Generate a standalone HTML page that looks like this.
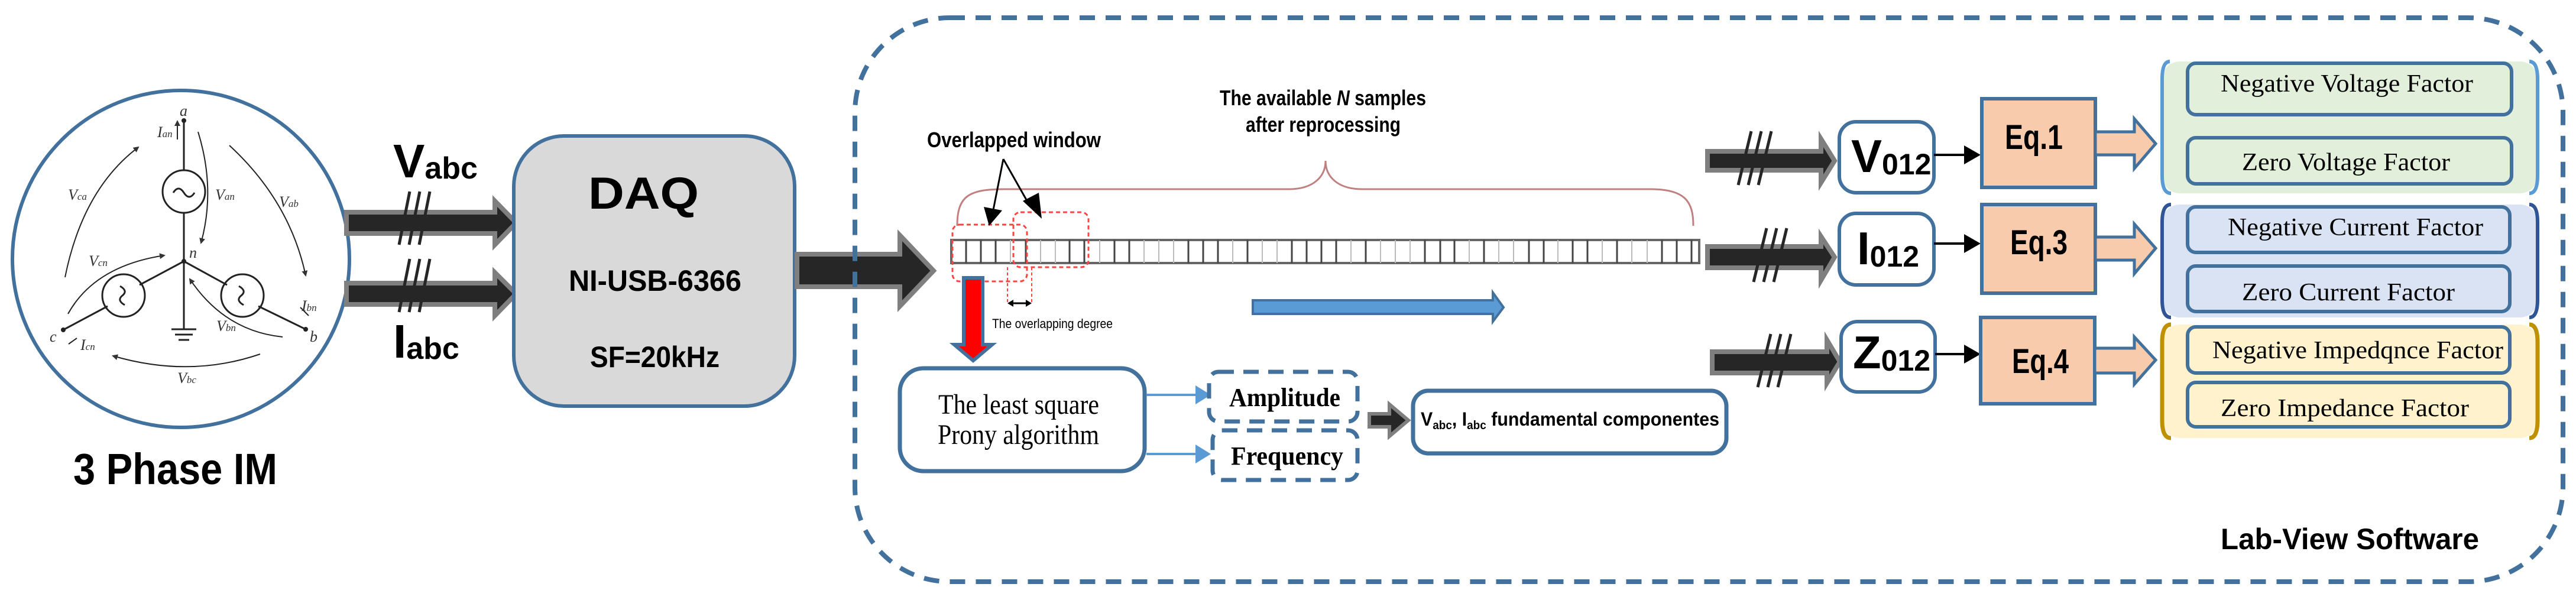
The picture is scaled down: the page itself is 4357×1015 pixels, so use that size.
<!DOCTYPE html>
<html><head><meta charset="utf-8"><style>
html,body{margin:0;padding:0;background:#fff;}
svg{display:block;}
</style></head><body>
<svg width="4357" height="1015" viewBox="0 0 4357 1015" xmlns="http://www.w3.org/2000/svg">
<defs>
<marker id="ah" markerWidth="10" markerHeight="10" refX="8" refY="5" orient="auto" markerUnits="userSpaceOnUse"><path d="M0,0 L10,5 L0,10z" fill="#333"/></marker>
</defs>
<g font-family="'Liberation Sans', sans-serif" font-weight="bold" fill="#000">

<!-- Motor circle -->
<circle cx="306" cy="438" r="285" fill="#fff" stroke="#41719c" stroke-width="6"/>
<g stroke="#222" stroke-width="3" fill="none">
<line x1="311" y1="204" x2="311" y2="288"/>
<line x1="311" y1="360" x2="311" y2="557"/>
<line x1="311" y1="442" x2="236" y2="482"/>
<line x1="182" y1="518" x2="107" y2="558"/>
<line x1="311" y1="442" x2="384" y2="482"/>
<line x1="437" y1="518" x2="517" y2="557"/>
<line x1="290" y1="557" x2="332" y2="557"/>
<line x1="296" y1="566" x2="326" y2="566"/>
<line x1="302" y1="575" x2="320" y2="575"/>
<circle cx="311" cy="324" r="36"/>
<circle cx="209" cy="500" r="36"/>
<circle cx="410" cy="500" r="36"/>
<path d="M293,326 q9,-14 18,0 q9,14 18,0"/>
<path d="M203,484 q14,8 4,16 q-10,8 4,16"/>
<path d="M404,484 q14,8 4,16 q-10,8 4,16"/>
<path d="M110,469 Q140,320 234,249" stroke-width="2" marker-end="url(#ah)"/>
<path d="M388,246 Q490,340 517,466" stroke-width="2" marker-end="url(#ah)"/>
<path d="M335,223 Q365,320 340,411" stroke-width="2" marker-end="url(#ah)"/>
<path d="M440,599 Q320,640 191,602" stroke-width="2" marker-end="url(#ah)"/>
<path d="M115,531 Q160,450 278,432" stroke-width="2" marker-end="url(#ah)"/>
<path d="M478,570 Q380,560 321,472" stroke-width="2" marker-end="url(#ah)"/>
<line x1="300" y1="236" x2="300" y2="205" stroke-width="2" marker-end="url(#ah)"/>
<line x1="508" y1="520" x2="522" y2="534" stroke-width="2"/>
<line x1="130" y1="572" x2="116" y2="582" stroke-width="2"/>
</g>
<circle cx="311" cy="204" r="4" fill="#222"/><circle cx="311" cy="442" r="4" fill="#222"/>
<circle cx="107" cy="558" r="4" fill="#222"/><circle cx="517" cy="557" r="4" fill="#222"/>
<g font-family="'Liberation Serif', serif" font-style="italic" font-weight="normal" font-size="26" fill="#333">
<text x="304" y="196">a</text><text x="266" y="232">I<tspan font-size="17">an</tspan></text>
<text x="364" y="338">V<tspan font-size="17">an</tspan></text><text x="115" y="338">V<tspan font-size="17">ca</tspan></text>
<text x="472" y="350">V<tspan font-size="17">ab</tspan></text><text x="150" y="450">V<tspan font-size="17">cn</tspan></text>
<text x="320" y="436">n</text><text x="510" y="526">I<tspan font-size="17">bn</tspan></text>
<text x="366" y="560">V<tspan font-size="17">bn</tspan></text><text x="84" y="578">c</text>
<text x="136" y="592">I<tspan font-size="17">cn</tspan></text><text x="524" y="578">b</text>
<text x="300" y="648">V<tspan font-size="17">bc</tspan></text>
</g>
<text x="124" y="819" font-size="74" textLength="345" lengthAdjust="spacingAndGlyphs">3 Phase IM</text>

<!-- input arrows -->
<polygon points="586,359 837,359 837,340 873,377 837,414 837,395 586,395" fill="#262626" stroke="#7f7f7f" stroke-width="8"/>
<polygon points="586,479 837,479 837,461 873,497 837,534 837,515 586,515" fill="#262626" stroke="#7f7f7f" stroke-width="8"/>
<g stroke="#262626" stroke-width="5">
<line x1="693" y1="324" x2="675" y2="414"/><line x1="710" y1="324" x2="692" y2="414"/><line x1="727" y1="324" x2="709" y2="414"/>
<line x1="693" y1="438" x2="675" y2="528"/><line x1="710" y1="438" x2="692" y2="528"/><line x1="727" y1="438" x2="709" y2="528"/>
</g>
<text x="665" y="300" font-size="80">V<tspan font-size="52" dy="2">abc</tspan></text>
<text x="665" y="605" font-size="80">I<tspan font-size="52" dy="2">abc</tspan></text>

<!-- DAQ -->
<rect x="869" y="230" width="475" height="457" rx="85" fill="#d9d9d9" stroke="#41719c" stroke-width="6"/>
<text x="995" y="353" font-size="76" textLength="187" lengthAdjust="spacingAndGlyphs">DAQ</text>
<text x="962" y="492" font-size="50" textLength="292" lengthAdjust="spacingAndGlyphs">NI-USB-6366</text>
<text x="998" y="621" font-size="50" textLength="219" lengthAdjust="spacingAndGlyphs">SF=20kHz</text>
<polygon points="1348,430 1522,430 1522,398 1579,458 1522,518 1522,485 1348,485" fill="#262626" stroke="#7f7f7f" stroke-width="8"/>

<!-- dashed container -->
<rect x="1446" y="30" width="2889" height="954" rx="160" fill="none" stroke="#41719c" stroke-width="8" stroke-dasharray="26,18"/>
<text x="3756" y="929" font-size="50" textLength="437" lengthAdjust="spacingAndGlyphs">Lab-View Software</text>

<!-- samples -->
<text x="2063" y="178" font-size="36" textLength="349" lengthAdjust="spacingAndGlyphs">The available <tspan font-style="italic">N</tspan> samples</text>
<text x="2107" y="223" font-size="36" textLength="262" lengthAdjust="spacingAndGlyphs">after reprocessing</text>
<text x="1568" y="249" font-size="36" textLength="294" lengthAdjust="spacingAndGlyphs">Overlapped window</text>
<path d="M1619,382 C1619,330 1640,320 1700,320 L2180,320 C2220,320 2242,300 2242,272 C2242,300 2264,320 2304,320 L2790,320 C2850,320 2864,340 2864,382" fill="none" stroke="#c0807f" stroke-width="3"/>
<rect x="1609" y="406" width="1265" height="39" fill="#fff" stroke="#666" stroke-width="4"/>
<g stroke="#444" stroke-width="3" id="cells">
<path d="M1634,406v39M1659,406v39M1684,406v39M1735,406v39M1809,406v39M1834,406v39M1885,406v39M1910,406v39M2010,406v39M2035,406v39M2060,406v39M2110,406v39M2185,406v39M2210,406v39M2235,406v39M2260,406v39M2310,406v39M2410,406v39M2436,406v39M2460,406v39M2510,406v39M2586,406v39M2611,406v39M2660,406v39M2685,406v39M2735,406v39M2811,406v39M2836,406v39M2861,406v39"/>
</g>
<g stroke="#bbb" stroke-width="2">
<path d="M1709,406v39M1760,406v39M1785,406v39M1860,406v39M1935,406v39M1960,406v39M1985,406v39M2085,406v39M2135,406v39M2160,406v39M2285,406v39M2335,406v39M2360,406v39M2385,406v39M2485,406v39M2535,406v39M2560,406v39M2635,406v39M2710,406v39M2760,406v39M2786,406v39"/>
</g>
<rect x="1611" y="380" width="126" height="96" rx="12" fill="none" stroke="#f44" stroke-width="3" stroke-dasharray="7,5"/>
<rect x="1714" y="359" width="127" height="93" rx="12" fill="none" stroke="#f44" stroke-width="3" stroke-dasharray="7,5"/>
<path d="M1704,452 V513 M1745,452 V513" stroke="#f44" stroke-width="2" stroke-dasharray="5,4" fill="none"/>
<path d="M1706,513 h37" stroke="#000" stroke-width="3"/>
<path d="M1704,513 l10,-6 v12z M1745,513 l-10,-6 v12z" fill="#000"/>
<text x="1678" y="555" font-size="22" textLength="204" lengthAdjust="spacingAndGlyphs" font-weight="normal">The overlapping degree</text>
<line x1="1697" y1="269" x2="1679" y2="360" stroke="#000" stroke-width="3"/>
<line x1="1697" y1="269" x2="1740" y2="345" stroke="#000" stroke-width="3"/>
<polygon points="1664,350 1695,356 1673,382" fill="#000"/>
<polygon points="1730,340 1757,326 1762,370" fill="#000"/>

<!-- red arrow -->
<polygon points="1630,470 1662,470 1662,583 1678,583 1646,610 1614,583 1630,583" fill="#f00" stroke="#41719c" stroke-width="6"/>
<!-- blue right arrow -->
<polygon points="2119,508 2525,508 2525,495 2543,520 2525,544 2525,531 2119,531" fill="#5b9bd5" stroke="#41719c" stroke-width="4"/>

<!-- Prony -->
<rect x="1522" y="623" width="414" height="174" rx="40" fill="#fff" stroke="#41719c" stroke-width="7"/>
<g font-family="'Liberation Serif', serif" font-weight="normal">
<text x="1587" y="700" font-size="48" textLength="272" lengthAdjust="spacingAndGlyphs">The least square</text>
<text x="1586" y="751" font-size="48" textLength="273" lengthAdjust="spacingAndGlyphs">Prony algorithm</text>
</g>
<path d="M1939,668 H2025 M1939,768 H2025" stroke="#5b9bd5" stroke-width="4"/>
<polygon points="2022,652 2048,668 2022,684" fill="#5b9bd5"/>
<polygon points="2022,752 2048,768 2022,784" fill="#5b9bd5"/>
<rect x="2045" y="629" width="251" height="84" rx="16" fill="#fff" stroke="#41719c" stroke-width="7" stroke-dasharray="26,16"/>
<rect x="2051" y="728" width="245" height="84" rx="16" fill="#fff" stroke="#41719c" stroke-width="7" stroke-dasharray="26,16"/>
<g font-family="'Liberation Serif', serif">
<text x="2079" y="687" font-size="44" textLength="188" lengthAdjust="spacingAndGlyphs">Amplitude</text>
<text x="2082" y="786" font-size="44" textLength="190" lengthAdjust="spacingAndGlyphs">Frequency</text>
</g>
<polygon points="2316,700 2350,700 2350,684 2382,711 2350,738 2350,722 2316,722" fill="#262626" stroke="#7f7f7f" stroke-width="6"/>
<rect x="2390" y="661" width="530" height="106" rx="26" fill="#fff" stroke="#41719c" stroke-width="7"/>
<text x="2403" y="720" font-size="32" textLength="505" lengthAdjust="spacingAndGlyphs">V<tspan font-size="20" dy="6">abc</tspan><tspan dy="-6">, I</tspan><tspan font-size="20" dy="6">abc</tspan><tspan dy="-6"> fundamental componentes</tspan></text>

<!-- right arrows -->
<polygon points="2888,256 3080,256 3080,235 3103,272 3080,309 3080,288 2888,288" fill="#262626" stroke="#7f7f7f" stroke-width="8"/>
<polygon points="2888,417 3080,417 3080,400 3103,435 3080,474 3080,453 2888,453" fill="#262626" stroke="#7f7f7f" stroke-width="8"/>
<polygon points="2896,595 3090,595 3090,575 3112,612 3090,648 3090,631 2896,631" fill="#262626" stroke="#7f7f7f" stroke-width="8"/>
<g stroke="#262626" stroke-width="5">
<line x1="2962" y1="222" x2="2940" y2="313"/><line x1="2979" y1="222" x2="2957" y2="313"/><line x1="2996" y1="222" x2="2974" y2="313"/>
<line x1="2988" y1="386" x2="2966" y2="477"/><line x1="3005" y1="386" x2="2983" y2="477"/><line x1="3022" y1="386" x2="3000" y2="477"/>
<line x1="2995" y1="565" x2="2973" y2="655"/><line x1="3012" y1="565" x2="2990" y2="655"/><line x1="3029" y1="565" x2="3007" y2="655"/>
</g>
<rect x="3111" y="206" width="160" height="120" rx="28" fill="#fff" stroke="#41719c" stroke-width="6"/>
<rect x="3111" y="361" width="160" height="121" rx="28" fill="#fff" stroke="#41719c" stroke-width="6"/>
<rect x="3114" y="544" width="159" height="119" rx="28" fill="#fff" stroke="#41719c" stroke-width="6"/>
<text x="3131" y="291" font-size="78">V<tspan font-size="50" dy="4">012</tspan></text>
<text x="3141" y="447" font-size="78">I<tspan font-size="50" dy="4">012</tspan></text>
<text x="3134" y="623" font-size="78">Z<tspan font-size="50" dy="4">012</tspan></text>
<path d="M3271,262 H3325 M3271,412 H3325 M3273,599 H3325" stroke="#000" stroke-width="4"/>
<polygon points="3322,246 3350,262 3322,278" fill="#000"/>
<polygon points="3322,396 3350,412 3322,428" fill="#000"/>
<polygon points="3322,583 3350,599 3322,615" fill="#000"/>
<rect x="3352" y="167" width="192" height="150" fill="#f8cbad" stroke="#41719c" stroke-width="6"/>
<rect x="3352" y="346" width="192" height="150" fill="#f8cbad" stroke="#41719c" stroke-width="6"/>
<rect x="3350" y="537" width="193" height="146" fill="#f8cbad" stroke="#41719c" stroke-width="6"/>
<text x="3391" y="252" font-size="58" textLength="98" lengthAdjust="spacingAndGlyphs">Eq.1</text>
<text x="3400" y="430" font-size="58" textLength="97" lengthAdjust="spacingAndGlyphs">Eq.3</text>
<text x="3403" y="631" font-size="58" textLength="96" lengthAdjust="spacingAndGlyphs">Eq.4</text>
<polygon points="3544,223 3610,223 3610,201 3646,243 3610,285 3610,262 3544,262" fill="#f8cbad" stroke="#41719c" stroke-width="5"/>
<polygon points="3544,401 3610,401 3610,379 3646,420 3610,463 3610,440 3544,440" fill="#f8cbad" stroke="#41719c" stroke-width="5"/>
<polygon points="3543,589 3610,589 3610,570 3646,609 3610,650 3610,631 3543,631" fill="#f8cbad" stroke="#41719c" stroke-width="5"/>

<!-- groups -->
<rect x="3657" y="104" width="635" height="223" rx="30" fill="#e2efda"/>
<path d="M3670,104 Q3657,104 3657,134 V297 Q3657,327 3672,327 M4278,104 Q4292,104 4292,134 V297 Q4292,327 4278,327" fill="none" stroke="#5b9bd5" stroke-width="6"/>
<rect x="3657" y="346" width="635" height="191" rx="30" fill="#dae3f3"/>
<path d="M3672,346 Q3657,346 3657,376 V507 Q3657,537 3672,537 M4278,346 Q4292,346 4292,376 V507 Q4292,537 4278,537" fill="none" stroke="#2f5597" stroke-width="6"/>
<rect x="3657" y="549" width="635" height="192" rx="30" fill="#fff2cc"/>
<path d="M3672,549 Q3657,549 3657,579 V711 Q3657,741 3672,741 M4278,549 Q4292,549 4292,579 V711 Q4292,741 4278,741" fill="none" stroke="#bf9000" stroke-width="7"/>
<g stroke="#41719c" stroke-width="6">
<rect x="3700" y="107" width="548" height="87" rx="14" fill="#e2efda"/>
<rect x="3700" y="233" width="548" height="78" rx="14" fill="#e2efda"/>
<rect x="3700" y="350" width="545" height="77" rx="14" fill="#dae3f3"/>
<rect x="3700" y="450" width="545" height="77" rx="14" fill="#dae3f3"/>
<rect x="3700" y="553" width="545" height="78" rx="14" fill="#fff2cc"/>
<rect x="3700" y="647" width="545" height="75" rx="14" fill="#fff2cc"/>
</g>
<g font-family="'Liberation Serif', serif" font-weight="normal" font-size="42">
<text x="3756" y="155" textLength="427" lengthAdjust="spacingAndGlyphs">Negative Voltage Factor</text>
<text x="3792" y="288" textLength="352" lengthAdjust="spacingAndGlyphs">Zero Voltage Factor</text>
<text x="3768" y="398" textLength="432" lengthAdjust="spacingAndGlyphs">Negative Current Factor</text>
<text x="3792" y="508" textLength="360" lengthAdjust="spacingAndGlyphs">Zero Current Factor</text>
<text x="3742" y="606" textLength="492" lengthAdjust="spacingAndGlyphs">Negative Impedqnce Factor</text>
<text x="3756" y="704" textLength="420" lengthAdjust="spacingAndGlyphs">Zero Impedance Factor</text>
</g>
</g>
</svg>
</body></html>
